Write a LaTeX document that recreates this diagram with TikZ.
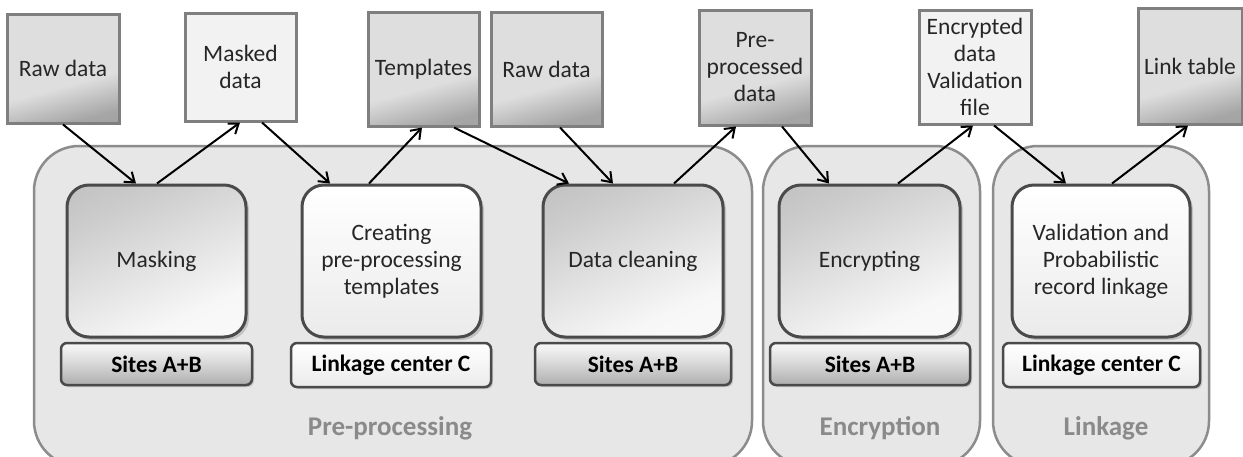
\documentclass[tikz,border=0pt]{standalone}
\usepackage{fontspec}
\setmainfont{Carlito}
\usetikzlibrary{arrows.meta,shadows}
\definecolor{grpfill}{HTML}{E7E7E7}
\definecolor{grpline}{HTML}{8C8C8C}
\definecolor{boxline}{HTML}{7F7F7F}
\definecolor{procline}{HTML}{4A4A4A}
\definecolor{grptext}{HTML}{8A8A8A}
\pgfdeclareverticalshading{datashade}{100bp}{color(0bp)=(black!40); color(25bp)=(black!35); color(42bp)=(black!13); color(100bp)=(black!13)}
\pgfdeclareverticalshading{procshade}{100bp}{color(0bp)=(black!2); color(30bp)=(black!3); color(70bp)=(black!20); color(100bp)=(black!30)}
\pgfdeclareverticalshading{whiteshade}{100bp}{color(0bp)=(black!10); color(25bp)=(black!8); color(75bp)=(white); color(100bp)=(white)}
\pgfdeclareverticalshading{siteshade}{100bp}{color(0bp)=(black!36); color(25bp)=(black!32); color(50bp)=(black!16); color(68bp)=(black!6); color(75bp)=(black!3); color(100bp)=(black!3)}
\begin{document}
\begin{tikzpicture}[x=1pt,y=-1pt,
  grp/.style={draw=grpline, line width=2.5pt, fill=grpfill, rounded corners=45pt},
  databox/.style={draw=boxline, line width=3pt, align=center, inner sep=2pt,
     font=\fontsize{23.5}{27}\selectfont, text=black!85},
  graydata/.style={databox, shading=datashade, shading angle=15},
  lightdata/.style={databox, fill=black!5},
  proc/.style={draw=procline, line width=3pt, rounded corners=22pt, align=center,
     font=\fontsize{23.5}{27}\selectfont, text=black!85,
     drop shadow={shadow xshift=3pt, shadow yshift=-3pt, opacity=0.35}},
  grayproc/.style={proc, shading=procshade, shading angle=25},
  whiteproc/.style={proc, shading=whiteshade},
  site/.style={draw=procline, line width=2.5pt, rounded corners=6pt,
     font=\fontsize{23.5}{27}\selectfont\bfseries, text=black,
     drop shadow={shadow xshift=2pt, shadow yshift=-2pt, opacity=0.3}},
  graysite/.style={site, shading=siteshade},
  whitesite/.style={site, shading=whiteshade},
  grplabel/.style={font=\fontsize{27}{30}\selectfont\bfseries, text=grptext},
  arr/.style={-{Straight Barb[length=9pt,width=13pt,line width=2pt]}, line width=2pt, black}
]
\useasboundingbox (0,0) rectangle (1243,456);
\fill[white] (0,0) rectangle (1243,456);

% groups
\node[grp, minimum width=718pt, minimum height=320pt] (gpre) at (393,306) {};
\node[grp, minimum width=217pt, minimum height=320pt] (genc) at (871.5,306) {};
\node[grp, minimum width=216pt, minimum height=320pt] (glnk) at (1101,306) {};
\node[grplabel] (lpre) at (390,428) {Pre-processing};
\node[grplabel] (lenc) at (880,428) {Encryption};
\node[grplabel] (llnk) at (1106,428) {Linkage};

% data boxes
\node[graydata, minimum width=112pt, minimum height=109pt] (raw1) at (63,68.5) {Raw data};
\node[lightdata, minimum width=111pt, minimum height=108pt] (masked) at (240.5,67) {Masked\\data};
\node[graydata, minimum width=111pt, minimum height=114pt] (tmpl) at (423.5,69) {Templates};
\node[graydata, minimum width=111pt, minimum height=114pt] (raw2) at (546.5,69) {Raw data};
\node[graydata, minimum width=112pt, minimum height=115pt] (pre) at (755,67.5) {Pre-\\processed\\data};
\node[lightdata, minimum width=112pt, minimum height=114pt] (enc) at (975,67) {Encrypted\\data\\Validation\\file};
\node[graydata, minimum width=104pt, minimum height=116pt] (link) at (1190,66) {Link table};

% process boxes
\node[grayproc, minimum width=179pt, minimum height=152pt] (mask) at (156.5,261) {Masking};
\node[whiteproc, minimum width=179pt, minimum height=152pt] (create) at (391.5,261) {Creating\\pre-processing\\templates};
\node[grayproc, minimum width=180pt, minimum height=152pt] (clean) at (633,261) {Data cleaning};
\node[grayproc, minimum width=181pt, minimum height=152pt] (encr) at (869.5,261) {Encrypting};
\node[whiteproc, minimum width=178pt, minimum height=152pt] (valid) at (1101,261) {Validation and\\Probabilistic\\record linkage};

% site bars
\node[graysite, minimum width=191pt, minimum height=42pt] (s1) at (156.5,364) {Sites A+B};
\node[whitesite, minimum width=200pt, minimum height=44pt] (c1) at (391,365) {Linkage center C};
\node[graysite, minimum width=196pt, minimum height=42pt] (s2) at (633,364) {Sites A+B};
\node[graysite, minimum width=200pt, minimum height=42pt] (s3) at (870,364) {Sites A+B};
\node[whitesite, minimum width=197pt, minimum height=44pt] (c2) at (1101.5,365) {Linkage center C};

% arrows
\draw[arr] (raw1.south) -- ([xshift=-20.5]mask.north);
\draw[arr] ([xshift=0.5]mask.north) -- ([xshift=-0.5]masked.south);
\draw[arr] ([xshift=21.5]masked.south) -- ([xshift=-61.5]create.north);
\draw[arr] ([xshift=-22.5]create.north) -- ([xshift=-1.5]tmpl.south);
\draw[arr] ([xshift=30.5]tmpl.south) -- ([xshift=-64]clean.north);
\draw[arr] ([xshift=13.5]raw2.south) -- ([xshift=-20]clean.north);
\draw[arr] ([xshift=41]clean.north) -- ([xshift=-19]pre.south);
\draw[arr] ([xshift=27]pre.south) -- ([xshift=-40.5]encr.north);
\draw[arr] ([xshift=28.5]encr.north) -- ([xshift=-2]enc.south);
\draw[arr] ([xshift=19]enc.south) -- ([xshift=-35]valid.north);
\draw[arr] ([xshift=11]valid.north) -- ([xshift=-2]link.south);
\end{tikzpicture}
\end{document}
